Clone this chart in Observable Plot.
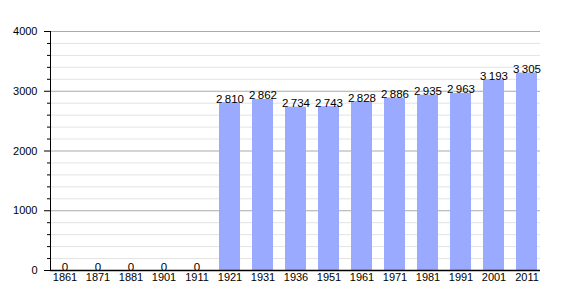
<!DOCTYPE html>
<html>
<head>
<meta charset="utf-8">
<script src="https://cdn.jsdelivr.net/npm/d3@7"></script>
<script src="https://cdn.jsdelivr.net/npm/@observablehq/plot@0.6"></script>
<style>
  body { margin: 0; background: #fff; }
  svg { display: block; }
</style>
</head>
<body>
<div id="chart"></div>
<script>
const years = ["1861","1871","1881","1901","1911","1921","1931","1936","1951","1961","1971","1981","1991","2001","2011"];
const population = [0,0,0,0,0,2810,2862,2734,2743,2828,2886,2935,2963,3193,3305];
const majorTicks = [0,1000,2000,3000,4000];
const minorTicks = d3.range(0, 4001, 200).filter(v => v % 1000 !== 0);

const data = years.map((y, i) => ({year: y, value: population[i]}));
const fmt = v => String(v).replace(/\B(?=(\d{3})+(?!\d))/g, "\u2009");

const chart = Plot.plot({
  width: 570,
  height: 300,
  marginLeft: 50,
  marginRight: 30,
  marginTop: 31,
  marginBottom: 30,
  style: {fontFamily: "Liberation Sans, Arial, sans-serif", fontSize: "11px", color: "#000", background: "#fff"},
  x: {domain: years, paddingInner: 0.37, paddingOuter: 0, label: null},
  y: {domain: [0, 4000], label: null},
  marks: [
    Plot.ruleY(minorTicks, {stroke: "#e3e3e3", strokeWidth: 1}),
    Plot.ruleY(majorTicks, {stroke: "#aaaaaa", strokeWidth: 1}),
    Plot.barY(data, {x: "year", y: "value", fill: "#9aabff"}),
    Plot.text(data, {x: "year", y: "value", text: d => fmt(d.value), lineAnchor: "bottom", dy: 0, fill: "#000", fontSize: 11.5}),
    Plot.axisY(majorTicks, {tickSize: 6, tickPadding: 7, tickFormat: d => String(d), fontSize: 11, stroke: "#000", label: null}),
    Plot.axisY(minorTicks, {tickSize: 3, tickFormat: () => "", stroke: "#000", label: null}),
    Plot.frame({anchor: "left", stroke: "#000"}),
    Plot.axisX({tickSize: 0, tickPadding: 3, fontSize: 11, label: null}),
    Plot.ruleY([0], {stroke: "#000", strokeWidth: 1.5})
  ]
});

document.getElementById("chart").appendChild(chart);
</script>
</body>
</html>
